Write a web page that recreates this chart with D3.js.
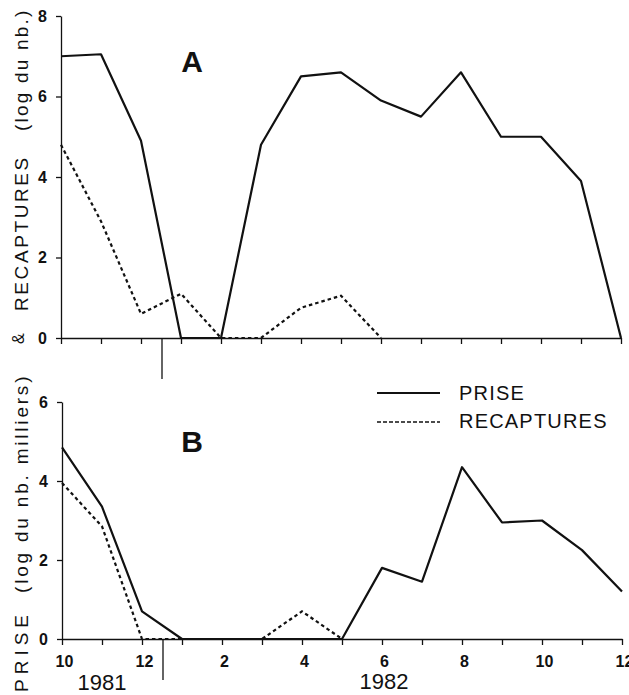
<!DOCTYPE html>
<html>
<head>
<meta charset="utf-8">
<script src="https://cdn.jsdelivr.net/npm/d3@7"></script>
<style>
  body { margin: 0; background: #fff; }
  svg { display: block; }
  text { font-family: "Liberation Sans", Arial, Helvetica, sans-serif; fill: #111; }
</style>
</head>
<body>
<script>
//month sequence, oct 1981 -> dec 1982
var months = ["10", "11", "12", "1", "2", "3", "4", "5", "6", "7", "8", "9", "10", "11", "12"];
var yearLabels = ["1981", "1982"];

//panel A (log du nb.)
var priseA = [7.0, 7.05, 4.9, 0, 0, 4.8, 6.5, 6.6, 5.9, 5.5, 6.6, 5.0, 5.0, 3.9, 0];
var recapA = [4.8, 2.9, 0.6, 1.1, 0, 0, 0.75, 1.05, 0, null, null, null, null, null, null];

//panel B (log du nb. milliers)
var priseB = [4.85, 3.35, 0.7, 0, 0, 0, 0, 0, 1.8, 1.45, 4.35, 2.95, 3.0, 2.25, 1.2];
var recapB = [3.95, 2.85, 0, 0, 0, 0, 0.7, 0, null, null, null, null, null, null, null];

var yTicksA = [0, 2, 4, 6, 8];
var yTicksB = [0, 2, 4, 6];

var width = 629;
var height = 695;

var svg = d3.select("body")
            .append("svg")
            .attr("width", width)
            .attr("height", height);

//scales
var xA = d3.scaleLinear().domain([0, months.length - 1]).range([61, 621]);
var xB = d3.scaleLinear().domain([0, months.length - 1]).range([62, 622]);
var yA = d3.scaleLinear().domain([0, 8]).range([338, 16]);
var yB = d3.scaleLinear().domain([0, 6]).range([639, 402]);

function drawPanel(x, y, yTicks, prise, recap, showLabels) {
  var g = svg.append("g");

  //x axis
  var xAxis = d3.axisBottom(x)
                .tickValues(d3.range(months.length))
                .tickSize(6)
                .tickSizeOuter(0)
                .tickPadding(11)
                .tickFormat(function(i) {
                  return (showLabels && i % 2 == 0) ? months[i] : "";
                });
  var gx = g.append("g")
            .attr("transform", "translate(0," + y(0) + ")")
            .call(xAxis);

  //y axis
  var yAxis = d3.axisLeft(y)
                .tickValues(yTicks)
                .tickFormat(d3.format("d"))
                .tickSize(5)
                .tickSizeOuter(0)
                .tickPadding(9);
  var gy = g.append("g")
            .attr("transform", "translate(" + x(0) + ",0)")
            .call(yAxis);

  [gx, gy].forEach(function(a) {
    a.attr("font-size", null).attr("font-family", null);
    a.selectAll("path, line").attr("stroke", "#111").attr("stroke-width", 1.3);
    a.selectAll("text")
     .style("font-size", "16px")
     .style("font-weight", "bold");
  });
  gx.selectAll("text").attr("dx", "2");

  //separator between years
  g.append("line")
   .attr("x1", (x(2) + x(3)) / 2 + 1)
   .attr("x2", (x(2) + x(3)) / 2 + 1)
   .attr("y1", y(0))
   .attr("y2", y(0) + 41)
   .attr("stroke", "#111")
   .attr("stroke-width", 1.3);

  var line = d3.line()
               .defined(function(d) { return d != null; })
               .x(function(d, i) { return x(i); })
               .y(function(d) { return y(d); });

  g.append("path")
   .datum(recap)
   .attr("d", line)
   .attr("fill", "none")
   .attr("stroke", "#111")
   .attr("stroke-width", 2.2)
   .attr("stroke-dasharray", "3.5,3");

  g.append("path")
   .datum(prise)
   .attr("d", line)
   .attr("fill", "none")
   .attr("stroke", "#111")
   .attr("stroke-width", 2.2)
   .attr("stroke-linejoin", "round");
}

drawPanel(xA, yA, yTicksA, priseA, recapA, false);
drawPanel(xB, yB, yTicksB, priseB, recapB, true);

//panel letters
svg.append("text").attr("x", 192).attr("y", 72)
   .attr("text-anchor", "middle")
   .style("font-size", "30px").style("font-weight", "bold")
   .text("A");
svg.append("text").attr("x", 192).attr("y", 452)
   .attr("text-anchor", "middle")
   .style("font-size", "30px").style("font-weight", "bold")
   .text("B");

//years under the axis
svg.append("text").attr("x", 102).attr("y", 690)
   .attr("text-anchor", "middle").style("font-size", "22px")
   .text(yearLabels[0]);
svg.append("text").attr("x", 384).attr("y", 689)
   .attr("text-anchor", "middle").style("font-size", "22px")
   .text(yearLabels[1]);

//rotated axis titles, placed piece by piece
function vText(str, yStart, baseX, size, spacing) {
  svg.append("text")
     .attr("transform", "translate(" + baseX + "," + yStart + ") rotate(-90)")
     .style("font-size", size + "px")
     .style("letter-spacing", spacing + "px")
     .text(str);
}
vText("&", 344, 24, 16, 0);
vText("RECAPTURES", 311, 28, 19, 2.6);
vText("(log du nb.)", 131, 28, 19, 2.2);
vText("PRISE", 692, 28, 19, 5);
vText("(log du nb. milliers)", 593, 28, 19, 2.8);

//legend
var legend = svg.append("g");
legend.append("line")
      .attr("x1", 377).attr("x2", 440).attr("y1", 393).attr("y2", 393)
      .attr("stroke", "#111").attr("stroke-width", 2);
legend.append("line")
      .attr("x1", 377).attr("x2", 440).attr("y1", 422).attr("y2", 422)
      .attr("stroke", "#111").attr("stroke-width", 1.6)
      .attr("stroke-dasharray", "4,2");
legend.append("text").attr("x", 459).attr("y", 400)
      .style("font-size", "20px").style("letter-spacing", "1.2px")
      .text("PRISE");
legend.append("text").attr("x", 459).attr("y", 428)
      .style("font-size", "20px").style("letter-spacing", "1.2px")
      .text("RECAPTURES");
</script>
</body>
</html>
